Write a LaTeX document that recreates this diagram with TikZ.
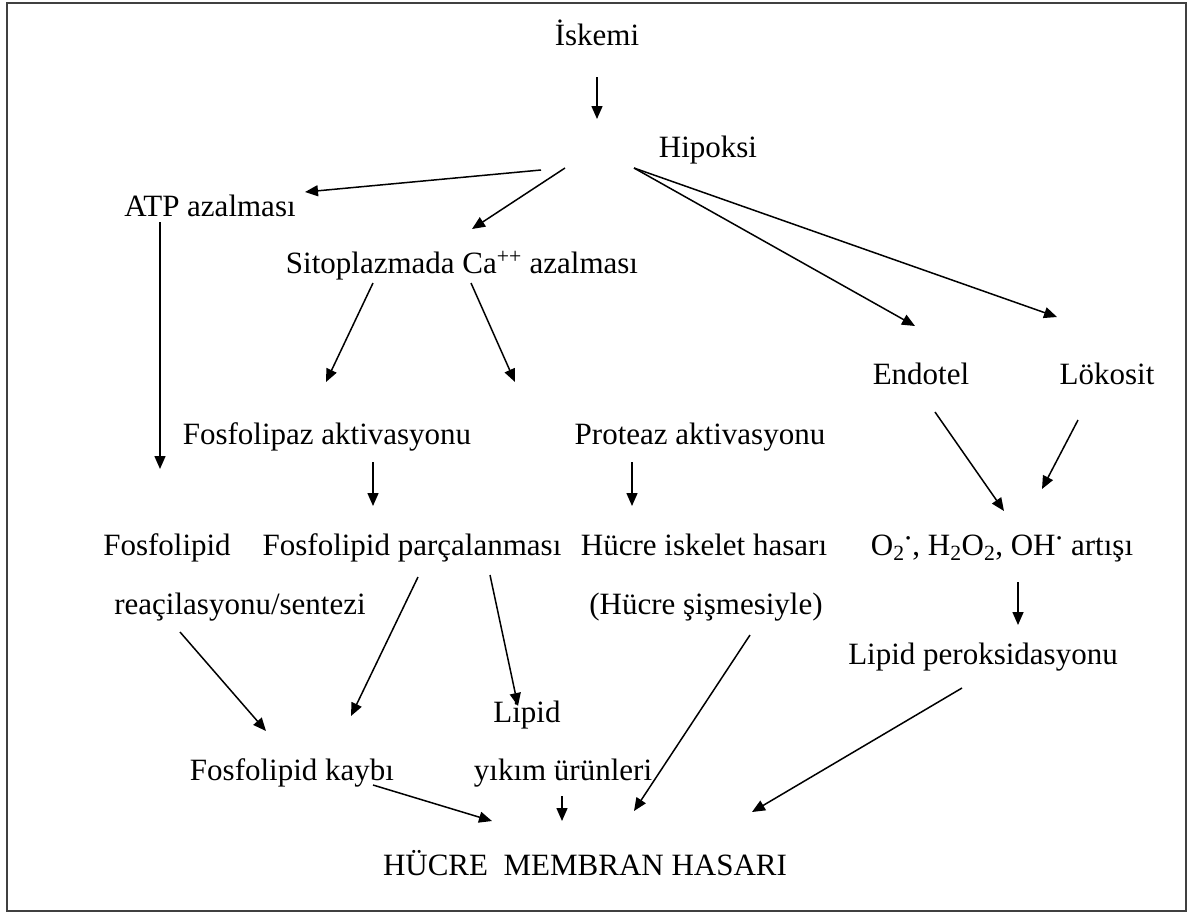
\documentclass[tikz,border=0pt]{standalone}
\usepackage{fontspec}
\setmainfont{Liberation Serif}
\usetikzlibrary{arrows.meta}
\begin{document}
\begin{tikzpicture}[x=1pt,y=-1pt,
  lbl/.style={anchor=base,inner sep=0pt,font=\fontsize{31}{36}\selectfont},
  arr/.style={-{Triangle[length=13pt,width=11pt]},line width=1.5pt},
  frame/.style={draw=black!75,line width=2.2pt}]
\useasboundingbox (0,0) rectangle (1192,914);
\draw[frame] (7,3) rectangle (1186,911);
% labels
\node[lbl] (isk) at (597,45) {İskemi};
\node[lbl] (hip) at (708,157) {Hipoksi};
\node[lbl] (atp) at (210,216) {ATP azalması};
\node[lbl] (ca) at (462,273) {Sitoplazmada Ca\textsuperscript{++} azalması};
\node[lbl] (fosakt) at (327,444) {Fosfolipaz aktivasyonu};
\node[lbl] (prot) at (700,444) {Proteaz aktivasyonu};
\node[lbl] (endo) at (921,384) {Endotel};
\node[lbl] (loko) at (1107,384) {Lökosit};
\node[lbl] (fos1) at (167,555) {Fosfolipid};
\node[lbl] (fos2) at (240,614) {reaçilasyonu/sentezi};
\node[lbl] (parc) at (412,555) {Fosfolipid parçalanması};
\node[lbl] (hisk) at (704,555) {Hücre iskelet hasarı};
\node[lbl] (hsis) at (706,614) {(Hücre şişmesiyle)};
\node[lbl] (oks) at (1002,555) {O\textsubscript{2}\textsuperscript{\textbf{·}}, H\textsubscript{2}O\textsubscript{2}, OH\textsuperscript{\textbf{·}} artışı};
\node[lbl] (lper) at (983,664) {Lipid peroksidasyonu};
\node[lbl] (lip1) at (527,722) {Lipid};
\node[lbl] (lip2) at (563,780) {yıkım ürünleri};
\node[lbl] (kayb) at (292,780) {Fosfolipid kaybı};
\node[lbl] (mem) at (585,875) {HÜCRE\ \ MEMBRAN HASARI};
% connector end points
\coordinate (a1) at (597,77);   \coordinate (b1) at (597,119);
\coordinate (h1) at (541,170);  \coordinate (b2) at (305,192);
\coordinate (h2) at (565,168);  \coordinate (b3) at (472,229);
\coordinate (h3) at (634,168);  \coordinate (b4) at (915,326);
                                \coordinate (b5) at (1057,317);
\coordinate (a6) at (160,222);  \coordinate (b6) at (160,469);
\coordinate (a7) at (373,283);  \coordinate (b7) at (326,382);
\coordinate (a8) at (471,283);  \coordinate (b8) at (515,382);
\coordinate (a9) at (373,462);  \coordinate (b9) at (373,506);
\coordinate (a10) at (632,462); \coordinate (b10) at (632,506);
\coordinate (a11) at (935,412); \coordinate (b11) at (1004,511);
\coordinate (a12) at (1078,420);\coordinate (b12) at (1042,489);
\coordinate (a13) at (1018,582);\coordinate (b13) at (1018,625);
\coordinate (a14) at (180,632); \coordinate (b14) at (266,731);
\coordinate (a15) at (418,577); \coordinate (b15) at (351,716);
\coordinate (a16) at (490,575); \coordinate (b16) at (518,706);
\coordinate (a17) at (750,635); \coordinate (b17) at (634,811);
\coordinate (a18) at (962,688); \coordinate (b18) at (752,812);
\coordinate (a19) at (373,785); \coordinate (b19) at (492,821);
\coordinate (a20) at (562,796); \coordinate (b20) at (562,821);
% connectors
\draw[arr] (a1) -- (b1);
\draw[arr] (h1) -- (b2);
\draw[arr] (h2) -- (b3);
\draw[arr] (h3) -- (b4);
\draw[arr] (h3) -- (b5);
\draw[arr] (a6) -- (b6);
\draw[arr] (a7) -- (b7);
\draw[arr] (a8) -- (b8);
\draw[arr] (a9) -- (b9);
\draw[arr] (a10) -- (b10);
\draw[arr] (a11) -- (b11);
\draw[arr] (a12) -- (b12);
\draw[arr] (a13) -- (b13);
\draw[arr] (a14) -- (b14);
\draw[arr] (a15) -- (b15);
\draw[arr] (a16) -- (b16);
\draw[arr] (a17) -- (b17);
\draw[arr] (a18) -- (b18);
\draw[arr] (a19) -- (b19);
\draw[arr] (a20) -- (b20);
\end{tikzpicture}
\end{document}
